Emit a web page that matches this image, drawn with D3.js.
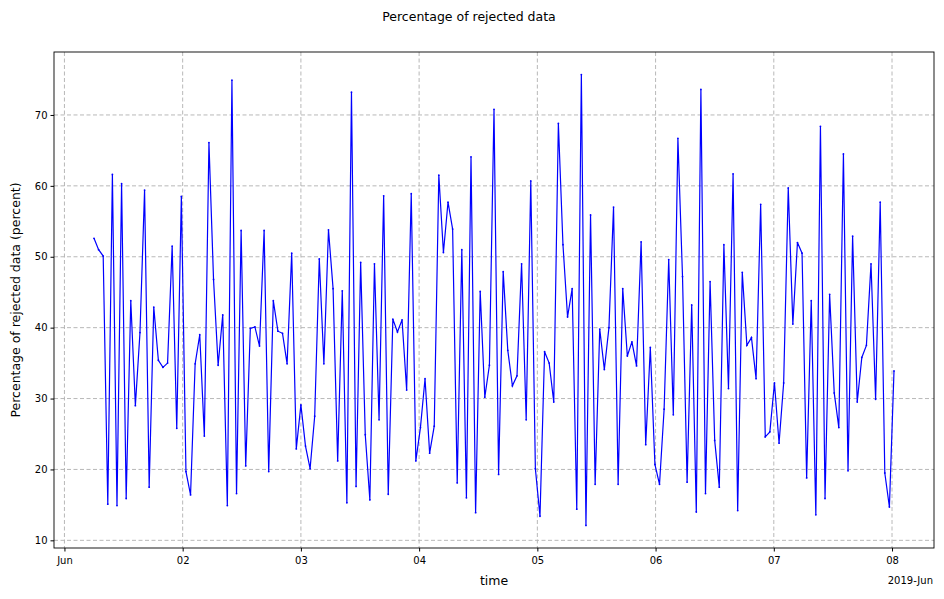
<!DOCTYPE html>
<html><head><meta charset="utf-8">
<script src="https://cdn.jsdelivr.net/npm/d3@7"></script>
<style>body{margin:0;background:#fff}text{font-family:"DejaVu Sans",sans-serif}</style>
</head><body><svg id="c" width="944" height="599"></svg>
<script>
const startTime = "2019-06-01T06:00:00";
const stepMinutes = 56;
const values = [52.6,51.0,50.1,15.1,61.6,14.9,60.3,15.9,43.8,29.0,39.3,59.4,17.5,42.9,35.4,34.4,35.0,51.5,25.8,58.5,19.7,16.4,34.9,39.0,
24.7,66.1,46.8,34.7,41.8,14.9,74.9,16.6,53.7,20.5,39.9,40.1,37.4,53.7,19.7,43.8,39.5,39.2,34.9,50.5,22.9,29.1,23.3,20.1,27.5,49.7,34.9,53.8,
45.5,21.2,45.2,15.3,73.2,17.6,49.2,24.9,15.7,49.0,27.0,58.6,16.5,41.2,39.4,41.1,31.2,58.9,21.2,25.9,32.8,22.3,26.1,61.5,50.6,57.7,53.9,18.1,
51.0,16.0,64.1,13.9,45.1,30.2,34.7,70.8,19.3,47.9,36.8,31.8,33.2,49.0,27.0,60.7,20.1,13.4,36.6,35.0,29.5,68.8,51.7,41.5,45.5,14.4,75.7,12.1,
55.9,17.9,39.8,34.1,40.0,57.0,17.9,45.5,36.0,38.0,34.6,52.1,23.5,37.2,20.7,17.9,28.5,49.6,27.7,66.7,47.2,18.2,43.2,14.0,73.6,16.6,46.5,24.1,17.5,
51.7,31.4,61.7,14.2,47.8,37.5,38.6,32.8,57.4,24.6,25.3,32.2,23.7,32.2,59.7,40.5,52.0,50.5,18.8,43.8,13.6,68.4,15.9,44.7,30.8,25.9,64.5,19.8,
52.9,29.5,35.8,37.5,49.0,29.9,57.7,19.5,14.7,33.9];
const xTickLabels = ["Jun","02","03","04","05","06","07","08"];
const yTicks = [10,20,30,40,50,60,70];

const svg = d3.select("#c");
const L=54,R=934,T=52,B=548;
const t0 = new Date(startTime);
const data = values.map((v,i)=>({t:new Date(t0.getTime()+i*stepMinutes*60000), v}));
const ext = d3.extent(data,d=>d.t);
const span = ext[1]-ext[0];
const x = d3.scaleTime().domain([new Date(+ext[0]-span*0.05), new Date(+ext[1]+span*0.05)]).range([L,R]);
const ye = d3.extent(values), ys=(ye[1]-ye[0])*0.05;
const y = d3.scaleLinear().domain([ye[0]-ys, ye[1]+ys]).range([B,T]);
const xTicks = xTickLabels.map((s,i)=>new Date(2019,5,1+i));

const g = svg.append("g");
g.selectAll(".gx").data(xTicks).join("line").attr("x1",d=>x(d)).attr("x2",d=>x(d)).attr("y1",T).attr("y2",B)
 .attr("stroke","#b0b0b0").attr("stroke-dasharray","4,2.5").attr("stroke-width",0.9);
g.selectAll(".gy").data(yTicks).join("line").attr("y1",d=>y(d)).attr("y2",d=>y(d)).attr("x1",L).attr("x2",R)
 .attr("stroke","#b0b0b0").attr("stroke-dasharray","4,2.5").attr("stroke-width",0.9);

const line = d3.line().x(d=>x(d.t)).y(d=>y(d.v));
svg.append("path").datum(data).attr("d",line).attr("fill","none").attr("stroke","#0000ff").attr("stroke-width",1.2);
svg.selectAll(".pt").data(data).join("circle").attr("cx",d=>x(d.t)).attr("cy",d=>y(d.v)).attr("r",0.9).attr("fill","#0000ff");

const xa = svg.append("g").attr("transform",`translate(0,${B})`)
 .call(d3.axisBottom(x).tickValues(xTicks).tickFormat((d,i)=>xTickLabels[i]).tickSizeOuter(0).tickSize(3.5));
const ya = svg.append("g").attr("transform",`translate(${L},0)`)
 .call(d3.axisLeft(y).tickValues(yTicks).tickSizeOuter(0).tickSize(3.5));
[xa,ya].forEach(a=>{a.select(".domain").remove();a.selectAll("text").attr("font-size",10).attr("fill","#000");a.selectAll("line").attr("stroke","#000");});
xa.selectAll("text").attr("dy","0.9em");
svg.append("rect").attr("x",L).attr("y",T).attr("width",R-L).attr("height",B-T).attr("fill","none").attr("stroke","#000").attr("stroke-width",0.9);

svg.append("text").attr("x",933).attr("y",584).attr("text-anchor","end").attr("font-size",10).text("2019-Jun");
svg.append("text").attr("x",(L+R)/2).attr("y",585).attr("text-anchor","middle").attr("font-size",12.5).text("time");
svg.append("text").attr("transform",`translate(20,${(T+B)/2}) rotate(-90)`).attr("text-anchor","middle").attr("font-size",12.5).text("Percentage of rejected data (percent)");
svg.append("text").attr("x",469).attr("y",21).attr("text-anchor","middle").attr("font-size",12.5).text("Percentage of rejected data");
</script></body></html>
